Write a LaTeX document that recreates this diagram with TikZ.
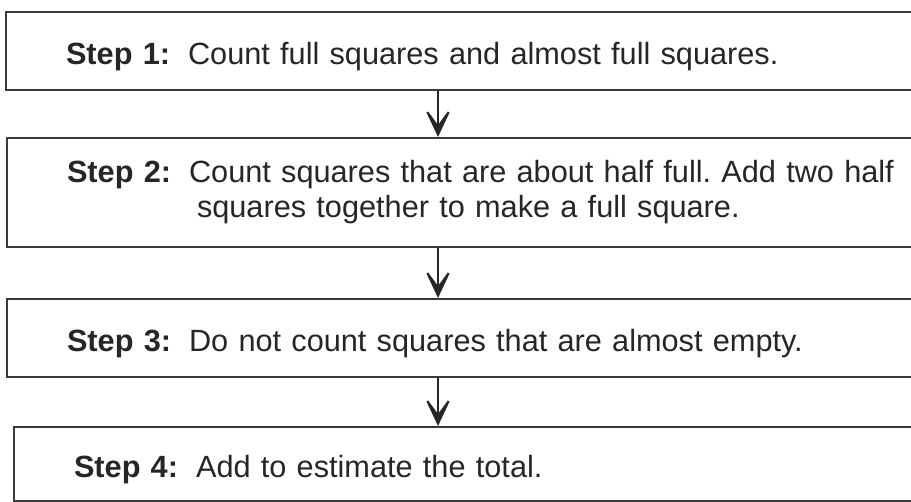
\documentclass[tikz,border=0pt]{standalone}
\usepackage{fontspec}
\setmainfont{Liberation Sans}
\usepackage{tikz}
\usetikzlibrary{arrows.meta,positioning}
\definecolor{inkgray}{HTML}{262626}
\definecolor{framegray}{HTML}{3A3A3A}
\frenchspacing
\tikzset{
  stepbox/.style={
    rectangle, draw=framegray, line width=2pt, anchor=north west,
    minimum height=#1, text width=850pt, align=left,
    inner xsep=60pt, inner ysep=0pt,
    font=\fontsize{30.7}{35}\selectfont, text=inkgray
  },
  stepbox/.default=78pt,
  oneline/.style={text height=34pt, text depth=6pt},
  flowarrow/.style={
    -{Stealth[length=34pt, width=32pt, inset=22pt]}, line width=2pt, color=#1
  },
  flowarrow/.default=inkgray,
}
\begin{document}
\begin{tikzpicture}[x=1pt, y=-1pt]
  \clip (0,0) rectangle (911,502);
  \node[stepbox=78pt, oneline] (step1) at (5,11)
    {\textbf{Step 1:}\hspace{18pt}Count full squares and almost full squares.};
  \node[stepbox=109pt] (step2) at (6,137)
    {\textbf{Step 2:}\hspace{18pt}Count squares that are about half full. Add two half\\
     \hspace*{130pt}squares together to make a full square.};
  \node[stepbox=78pt, oneline] (step3) at (6,298)
    {\textbf{Step 3:}\hspace{18pt}Do not count squares that are almost empty.};
  \node[stepbox=74pt, oneline] (step4) at (13,426)
    {\textbf{Step 4:}\hspace{18pt}Add to estimate the total.};
  % arrows between the steps
  \coordinate (arrowx) at (438,0);
  \draw[flowarrow] (step1.south -| arrowx) -- (step2.north -| arrowx);
  \draw[flowarrow] (step2.south -| arrowx) -- (step3.north -| arrowx);
  \draw[flowarrow] (step3.south -| arrowx) -- (step4.north -| arrowx);
\end{tikzpicture}
\end{document}
